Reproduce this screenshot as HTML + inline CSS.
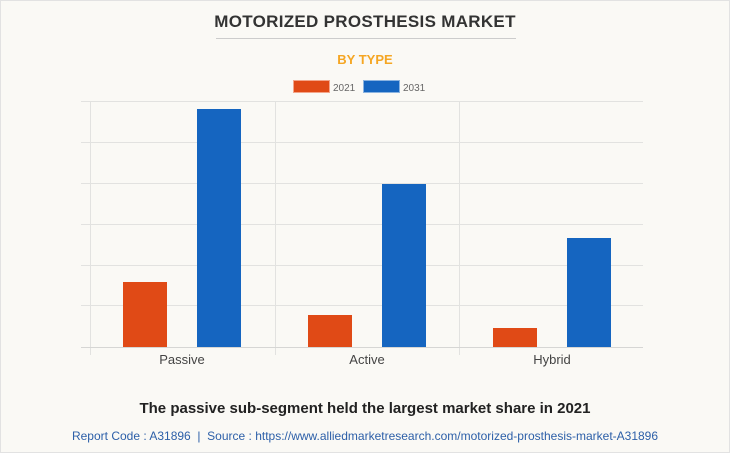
<!DOCTYPE html>
<html><head><style>
body{margin:0;background:#fff}
.w{position:relative;width:728px;height:451px;border:1px solid #e2e2e2;background:#faf9f5;font-family:"Liberation Sans",sans-serif;overflow:hidden}
.t{position:absolute;top:11px;width:100%;text-align:center;font-weight:bold;font-size:17px;color:#333;letter-spacing:.3px}
.hr{position:absolute;left:215px;width:300px;top:37px;border-top:1px solid #ccc}
.s{position:absolute;top:51px;width:100%;text-align:center;font-weight:bold;font-size:13px;color:#f5a623}
.f1{position:absolute;top:399px;width:100%;text-align:center;font-weight:bold;font-size:15px;color:#222}
.f2{position:absolute;top:428px;width:100%;text-align:center;font-size:12px;color:#2c5fa8}
</style></head><body><div class="w">
<div class="t">MOTORIZED PROSTHESIS MARKET</div>
<div class="hr"></div>
<div class="s">BY TYPE</div>
<svg width="730" height="453" style="position:absolute;left:-1px;top:-1px" font-family="Liberation Sans, sans-serif">
<rect x="293.5" y="80.5" width="36" height="12" fill="#e04a16" stroke="#f3a58a"/>
<text x="333" y="91" font-size="10" fill="#666">2021</text>
<rect x="363.5" y="80.5" width="36" height="12" fill="#1565c0" stroke="#8ab3e0"/>
<text x="403" y="91" font-size="10" fill="#666">2031</text>
<g stroke="#e2e2e0" stroke-width="1">
<line x1="81" y1="101.5" x2="643" y2="101.5"/>
<line x1="81" y1="142.5" x2="643" y2="142.5"/>
<line x1="81" y1="183.5" x2="643" y2="183.5"/>
<line x1="81" y1="224.5" x2="643" y2="224.5"/>
<line x1="81" y1="265.5" x2="643" y2="265.5"/>
<line x1="81" y1="305.5" x2="643" y2="305.5"/>
<line x1="90.5" y1="101" x2="90.5" y2="355"/>
<line x1="275.5" y1="101" x2="275.5" y2="355"/>
<line x1="459.5" y1="101" x2="459.5" y2="355"/>
</g>
<line x1="81" y1="347.5" x2="643" y2="347.5" stroke="#d6d6d4"/>
<g fill="#e04a16"><rect x="123" y="282" width="44" height="65"/><rect x="308" y="315" width="44" height="32"/><rect x="493" y="328" width="44" height="19"/></g>
<g fill="#1565c0"><rect x="197" y="109" width="44" height="238"/><rect x="382" y="184" width="44" height="163"/><rect x="567" y="238" width="44" height="109"/></g>
<g font-size="13" fill="#444" text-anchor="middle"><text x="182" y="364">Passive</text><text x="367" y="364">Active</text><text x="552" y="364">Hybrid</text></g>
</svg>
<div class="f1">The passive sub-segment held the largest market share in 2021</div>
<div class="f2">Report Code : A31896 &nbsp;|&nbsp; Source : https://www.alliedmarketresearch.com/motorized-prosthesis-market-A31896</div>
</div></body></html>
